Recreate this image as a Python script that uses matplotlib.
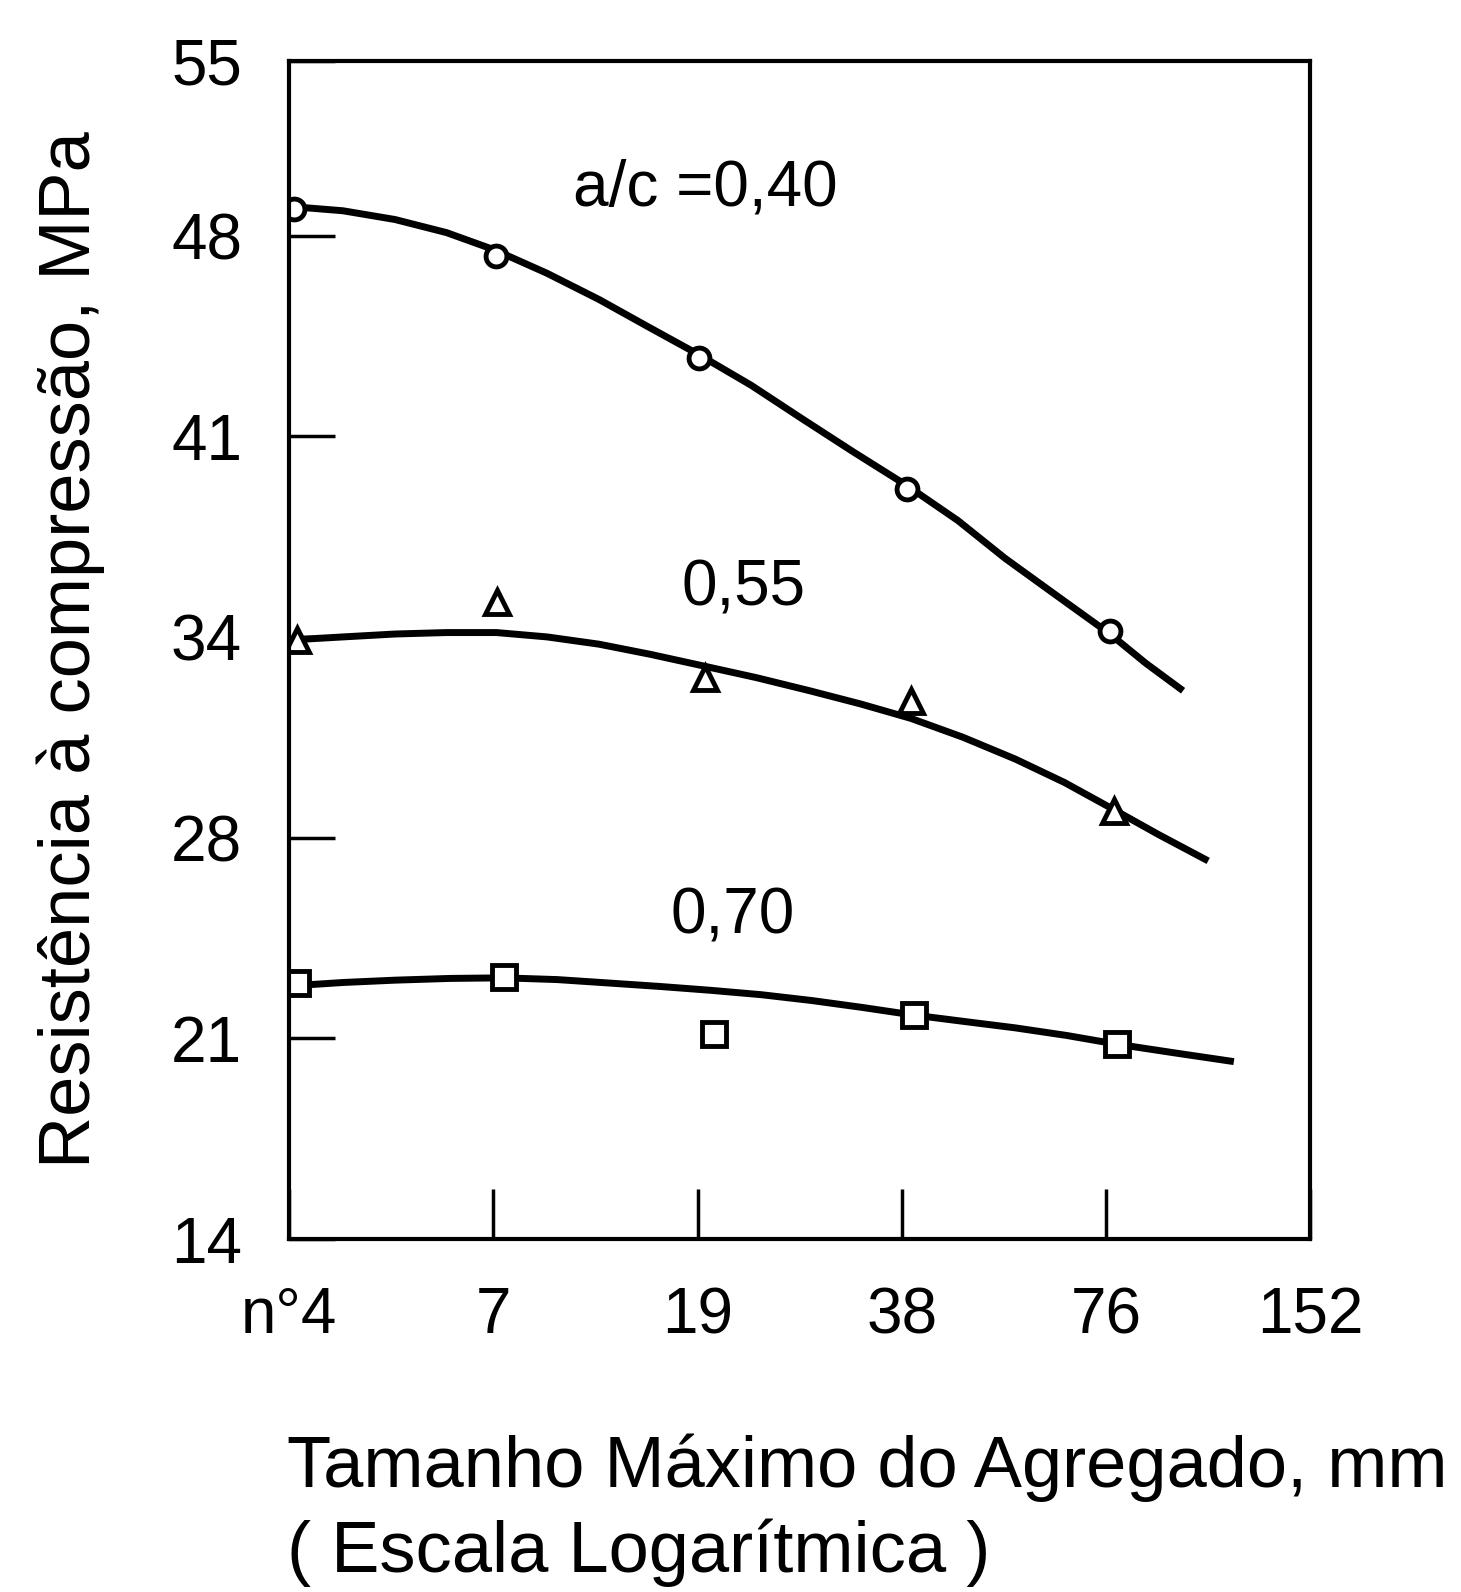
import numpy as np
import matplotlib
matplotlib.use('Agg')
import matplotlib.pyplot as plt
from matplotlib.ticker import FixedLocator, FixedFormatter, NullLocator

plt.rcParams['font.family'] = ['Liberation Sans', 'DejaVu Sans']

#%% data (size in mm, strength in MPa)
x_ticks  = [4.75, 9.5, 19, 38, 76, 152]
x_labels = ['n°4', '7', '19', '38', '76', '152']
y_ticks  = [13.8, 20.7, 27.6, 34.5, 41.4, 48.3, 54.3]
y_labels = ['14', '21', '28', '34', '41', '48', '55']

# a/c = 0,40
pts40_x   = [4.83, 9.57, 19.1, 38.7, 77.1]
pts40_y   = [49.2, 47.6, 44.1, 39.6, 34.7]
curve40_x = [4.75, 5.7, 6.8, 8.1, 9.55, 11.4, 13.6, 16.1, 19.1, 22.8, 27.1, 32.3, 38.7, 46.0, 54.0, 64.5, 77.1, 87.0, 98.8]
curve40_y = [49.3, 49.15, 48.85, 48.4, 47.8, 47.0, 46.1, 45.15, 44.2, 43.15, 42.0, 40.85, 39.7, 38.5, 37.2, 35.9, 34.6, 33.6, 32.65]

# a/c = 0,55
pts55_x   = [4.87, 9.62, 19.5, 39.2, 78.1]
pts55_y   = [34.4, 35.7, 33.1, 32.3, 28.5]
curve55_x = [4.8, 5.7, 6.8, 8.1, 9.6, 11.4, 13.6, 16.2, 19.4, 23.2, 27.8, 33.0, 39.2, 46.8, 55.9, 66.0, 77.6, 91.0, 107.6]
curve55_y = [34.4, 34.5, 34.6, 34.65, 34.65, 34.5, 34.25, 33.9, 33.5, 33.1, 32.65, 32.2, 31.7, 31.05, 30.3, 29.5, 28.6, 27.7, 26.8]

# a/c = 0,70
pts70_x   = [4.87, 9.85, 20.1, 39.6, 78.9]
pts70_y   = [22.6, 22.8, 20.85, 21.5, 20.5]
curve70_x = [4.75, 5.7, 6.8, 8.2, 9.85, 11.8, 14.1, 16.8, 19.9, 23.6, 28.0, 33.3, 39.6, 47.0, 55.9, 66.5, 78.9, 96.0, 117.4]
curve70_y = [22.5, 22.62, 22.7, 22.76, 22.78, 22.72, 22.6, 22.48, 22.35, 22.2, 22.0, 21.76, 21.5, 21.28, 21.06, 20.8, 20.5, 20.2, 19.9]

labels     = ['a/c =0,40', '0,55', '0,70']
label_pos  = [(19.5, 49.9), (22.2, 36.15), (21.4, 24.9)]

#%% plotting
fig = plt.figure(figsize=(14.61, 15.92), dpi=100)
ax = fig.add_axes([0.198, 0.2217, 0.6986, 0.74])

lw = 5
ax.plot(curve40_x, curve40_y, 'k-', lw=lw, solid_capstyle='butt')
ax.plot(curve55_x, curve55_y, 'k-', lw=lw, solid_capstyle='butt')
ax.plot(curve70_x, curve70_y, 'k-', lw=lw, solid_capstyle='butt')
ax.plot(pts40_x, pts40_y, 'o', ms=15, mfc='white', mec='k', mew=3.5, ls='none')
ax.plot(pts55_x, pts55_y, '^', ms=17, mfc='white', mec='k', mew=3.5, ls='none')
ax.plot(pts70_x, pts70_y, 's', ms=17, mfc='white', mec='k', mew=3.5, ls='none')

for txt, (tx, ty) in zip(labels, label_pos):
    ax.text(tx, ty, txt, fontsize=46, ha='center', va='center')

ax.set_xscale('log')
ax.set_xlim(4.75, 152)
ax.set_ylim(13.8, 54.3)
ax.xaxis.set_major_locator(FixedLocator(x_ticks))
ax.xaxis.set_major_formatter(FixedFormatter(x_labels))
ax.xaxis.set_minor_locator(NullLocator())
ax.yaxis.set_major_locator(FixedLocator(y_ticks))
ax.yaxis.set_major_formatter(FixedFormatter(y_labels))

ax.tick_params(axis='x', direction='in', length=36, width=2.5, pad=34, labelsize=46)
ax.tick_params(axis='y', direction='in', length=33, width=2.5, pad=34, labelsize=46)
for sp in ax.spines.values():
    sp.set_linewidth(3)

fig.text(0.0486, 0.592, 'Resistência à compressão, MPa', fontsize=52,
         rotation=90, ha='center', va='center')
fig.text(0.1966, 0.0515, 'Tamanho Máximo do Agregado, mm\n( Escala Logarítmica )',
         fontsize=52, ha='left', va='center', linespacing=1.3)

fig.savefig('out.png', dpi=100)
